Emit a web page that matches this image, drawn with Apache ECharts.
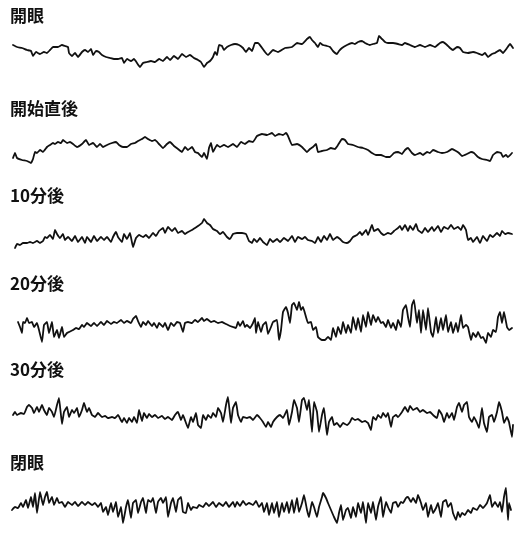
<!DOCTYPE html>
<html><head><meta charset="utf-8">
<script src="https://cdn.jsdelivr.net/npm/echarts@6/dist/echarts.min.js"></script>
<style>html,body{margin:0;padding:0;background:#fff}#c{width:515px;height:533px}</style>
</head><body><div id="c"></div>
<script>
// Panel labels
const labels = ['開眼', '開始直後', '10分後', '20分後', '30分後', '閉眼'];

// Traces: [time, deflection] (deflection plotted downward-positive)
const trace1 = [[13,45],[17,47],[22,48],[27,50],[31,51],[33,56],[36,52],[40,54],[44,52],[47,53],[50,50],[53,47],[58,47],[62,45],[65,46],[68,47],[69,53],[72,56],[75,53],[78,57],[82,52],[85,50],[88,52],[91,49],[93,55],[96,51],[99,52],[102,55],[106,57],[110,58],[114,59],[118,59],[122,58],[124,63],[127,59],[131,61],[134,59],[137,63],[140,67],[143,63],[147,62],[151,61],[155,62],[159,59],[163,61],[167,57],[170,60],[174,56],[178,59],[182,54],[186,57],[190,55],[194,58],[198,60],[201,62],[204,67],[207,63],[210,61],[213,57],[215,52],[217,55],[219,45],[222,46],[224,50],[227,47],[231,45],[235,44],[239,45],[243,48],[246,52],[249,48],[252,51],[255,43],[258,43],[265,52],[268,55],[273,50],[278,52],[285,48],[292,47],[297,43],[302,44],[307,39],[310,37],[312,40],[315,43],[318,47],[320,43],[323,45],[327,46],[330,47],[333,51],[337,54],[339,51],[342,48],[347,45],[352,43],[355,44],[358,42],[362,41],[365,43],[370,45],[373,44],[377,43],[379,36],[382,39],[385,42],[388,43],[393,43],[398,44],[402,45],[405,43],[410,45],[415,47],[420,45],[425,47],[430,45],[435,47],[440,43],[443,42],[447,45],[450,48],[453,50],[457,47],[460,48],[463,52],[468,53],[473,52],[477,53],[482,55],[485,53],[488,57],[492,54],[495,53],[500,50],[503,53],[507,48],[510,44],[513,48]];

const trace2 = [[13,158],[15,153],[17,158],[22,160],[27,161],[31,163],[33,159],[35,152],[37,153],[40,150],[43,152],[47,147],[50,145],[53,143],[55,144],[58,142],[61,143],[63,140],[67,143],[70,142],[73,144],[77,147],[82,144],[86,140],[89,145],[93,143],[97,147],[100,144],[103,147],[107,145],[112,143],[116,142],[119,145],[123,147],[127,147],[131,144],[135,143],[138,141],[142,139],[145,137],[148,139],[152,141],[155,140],[159,144],[163,148],[167,144],[170,142],[174,146],[178,149],[182,152],[185,147],[188,150],[192,147],[195,152],[198,153],[202,157],[204,153],[207,159],[209,148],[211,143],[213,152],[217,145],[220,147],[224,145],[228,147],[233,144],[237,147],[241,142],[245,144],[249,141],[253,142],[257,136],[262,134],[267,135],[272,133],[275,136],[279,134],[283,135],[286,133],[288,136],[292,145],[297,144],[302,147],[307,152],[310,149],[313,147],[316,144],[318,152],[322,151],[327,150],[331,148],[335,149],[338,145],[342,139],[345,140],[348,144],[353,145],[358,147],[363,148],[368,150],[372,153],[376,155],[381,155],[386,157],[390,157],[394,153],[398,152],[402,154],[405,150],[408,148],[412,153],[415,155],[420,153],[423,155],[427,152],[430,153],[433,150],[438,152],[442,153],[447,152],[452,149],[456,151],[459,153],[462,156],[467,154],[471,152],[474,153],[478,157],[482,159],[487,160],[490,161],[493,155],[497,152],[501,153],[503,157],[506,155],[508,157],[512,153]];

const trace3 = [[15,248],[17,244],[20,245],[23,243],[27,243],[30,242],[33,243],[37,241],[40,243],[43,241],[45,237],[47,238],[50,235],[53,239],[55,230],[57,234],[60,238],[63,234],[65,240],[68,237],[72,241],[75,236],[78,242],[82,237],[85,243],[87,237],[91,242],[94,236],[97,241],[101,237],[104,240],[107,237],[111,242],[113,237],[116,232],[118,237],[122,242],[124,234],[127,239],[130,233],[133,247],[136,238],[139,235],[143,237],[146,235],[149,238],[153,233],[156,236],[159,231],[163,228],[165,233],[168,227],[172,231],[175,228],[178,233],[182,231],[185,234],[188,232],[192,230],[195,228],[198,226],[202,223],[204,219],[207,223],[210,225],[213,229],[217,231],[220,234],[223,232],[227,237],[230,239],[233,234],[237,233],[242,233],[246,234],[249,241],[252,243],[254,239],[257,242],[260,238],[263,242],[267,245],[270,239],[273,242],[277,239],[280,242],[284,238],[288,241],[292,236],[295,242],[298,237],[302,239],[305,237],[308,240],[312,241],[315,243],[318,237],[321,242],[324,236],[327,240],[330,234],[333,240],[337,237],[340,239],[343,242],[347,243],[350,241],[353,237],[357,235],[360,232],[362,235],[366,230],[368,235],[372,225],[374,231],[378,229],[381,233],[384,235],[388,233],[391,234],[394,231],[398,228],[400,226],[402,230],[405,225],[408,231],[410,226],[413,230],[416,224],[418,230],[422,233],[425,228],[428,232],[432,227],[434,231],[438,226],[441,232],[444,227],[448,229],[451,225],[454,229],[458,227],[461,230],[463,225],[466,230],[468,240],[471,238],[473,242],[477,237],[480,243],[483,236],[487,241],[490,235],[493,237],[497,233],[500,236],[502,231],[505,234],[508,233],[512,234]];

const trace4 = [[18,322],[20,327],[22,333],[23,322],[25,323],[27,318],[29,323],[32,322],[34,327],[37,323],[39,330],[42,342],[44,325],[47,322],[49,333],[52,322],[54,337],[57,330],[59,338],[62,327],[64,337],[67,333],[69,332],[73,330],[76,328],[79,329],[82,325],[84,327],[87,323],[91,326],[94,323],[97,326],[101,322],[104,325],[107,321],[111,324],[114,322],[117,323],[121,320],[124,323],[127,321],[131,323],[133,319],[136,316],[138,321],[141,327],[143,322],[146,325],[148,321],[152,326],[154,323],[157,328],[159,323],[163,327],[165,323],[168,330],[171,323],[174,326],[177,322],[180,323],[183,332],[185,323],[188,322],[192,323],[195,320],[198,322],[202,318],[204,321],[207,319],[211,322],[214,321],[218,323],[222,322],[226,324],[230,326],[233,327],[236,328],[238,322],[240,326],[243,321],[245,327],[247,325],[250,328],[253,323],[255,318],[256,333],[258,322],[261,332],[263,325],[266,322],[268,334],[271,327],[273,322],[277,320],[279,340],[281,330],[283,312],[286,307],[288,313],[290,323],[292,305],[294,303],[297,310],[299,302],[301,310],[303,307],[306,317],[308,323],[311,322],[313,330],[316,327],[318,337],[322,340],[325,340],[328,337],[331,340],[333,328],[336,337],[338,327],[341,334],[343,322],[346,333],[348,325],[351,333],[353,317],[356,330],[358,318],[361,332],[363,315],[366,327],[368,312],[371,325],[373,315],[376,322],[378,317],[381,323],[383,322],[386,327],[388,320],[391,328],[393,323],[396,330],[398,320],[401,327],[403,310],[406,305],[408,317],[410,327],[412,305],[414,300],[417,323],[419,310],[421,333],[423,310],[426,330],[428,308],[431,332],[433,337],[436,317],[438,333],[441,318],[443,330],[446,315],[448,332],[451,322],[453,333],[456,323],[458,332],[461,315],[463,328],[466,325],[468,327],[471,340],[473,333],[476,337],[478,332],[481,338],[483,337],[486,343],[488,333],[491,337],[493,330],[496,332],[498,317],[500,312],[502,323],[504,312],[507,327],[509,330],[512,328]];

const trace5 = [[13,415],[15,412],[17,415],[21,413],[24,414],[27,407],[29,405],[32,408],[34,413],[37,407],[39,412],[42,405],[44,410],[47,415],[49,408],[52,412],[54,417],[57,405],[59,398],[62,424],[64,412],[67,407],[69,417],[72,410],[74,413],[77,408],[79,417],[82,410],[84,403],[87,412],[89,408],[92,415],[95,417],[98,413],[102,417],[105,416],[108,418],[112,417],[115,418],[118,415],[122,422],[124,418],[127,423],[129,418],[132,422],[134,417],[137,423],[139,410],[142,421],[144,413],[147,418],[149,414],[152,417],[155,415],[158,418],[162,416],[165,419],[168,417],[172,420],[175,415],[178,412],[181,420],[183,415],[186,423],[188,428],[191,417],[193,422],[196,413],[198,425],[201,428],[203,415],[206,420],[208,415],[211,418],[213,413],[216,417],[218,408],[221,413],[223,422],[226,405],[228,397],[231,423],[233,408],[236,402],[238,415],[241,422],[243,417],[247,418],[250,417],[253,420],[257,415],[260,418],[263,422],[266,427],[268,422],[271,427],[273,422],[277,417],[280,415],[283,418],[287,410],[289,425],[292,412],[294,400],[297,408],[299,422],[302,400],[304,398],[307,410],[309,400],[312,432],[314,402],[317,412],[319,432],[322,415],[324,408],[327,435],[329,422],[332,417],[334,425],[337,423],[340,427],[343,423],[347,425],[350,422],[352,418],[355,420],[358,419],[362,422],[365,421],[368,423],[371,430],[373,417],[376,420],[378,415],[381,418],[383,413],[386,417],[388,413],[391,427],[393,417],[396,415],[398,417],[402,412],[405,407],[408,412],[410,406],[413,410],[417,408],[420,412],[423,410],[427,413],[430,412],[433,415],[437,418],[439,410],[442,415],[444,422],[447,413],[449,418],[452,413],[454,420],[457,407],[459,403],[462,412],[464,405],[467,402],[469,417],[472,422],[474,417],[477,423],[479,428],[482,408],[484,423],[487,432],[489,417],[492,415],[494,422],[497,412],[499,402],[502,412],[504,423],[507,417],[509,422],[512,437],[513,425]];

const trace6 = [[12,510],[15,507],[18,508],[21,503],[23,507],[26,500],[28,508],[31,497],[33,507],[35,493],[37,513],[40,492],[43,505],[45,497],[47,492],[49,503],[52,497],[54,505],[57,498],[59,503],[62,502],[65,507],[68,502],[72,505],[75,502],[78,506],[82,502],[85,505],[88,502],[92,505],[95,503],[98,507],[101,503],[103,512],[106,507],[108,515],[111,503],[113,512],[116,502],[118,517],[121,507],[123,523],[126,507],[128,500],[131,518],[133,503],[136,500],[138,513],[141,502],[143,498],[146,513],[148,500],[151,502],[153,498],[156,513],[158,502],[161,498],[163,503],[166,497],[168,517],[171,503],[173,498],[176,512],[178,500],[181,497],[183,512],[186,513],[188,503],[191,510],[193,507],[197,508],[199,505],[203,507],[206,503],[209,506],[213,502],[216,507],[219,503],[223,506],[226,502],[229,507],[233,502],[235,507],[237,502],[240,506],[243,501],[246,505],[249,503],[253,505],[256,501],[259,507],[262,503],[264,512],[267,503],[269,515],[272,503],[274,513],[277,502],[279,517],[282,503],[284,512],[287,502],[289,513],[292,500],[294,513],[297,498],[299,512],[302,503],[304,495],[307,510],[309,517],[312,502],[314,507],[317,517],[319,507],[322,497],[323,493],[326,498],[328,503],[331,510],[334,517],[337,523],[339,513],[341,505],[343,520],[346,510],[348,508],[351,518],[353,507],[356,517],[358,503],[361,513],[363,502],[366,523],[368,503],[371,513],[373,502],[376,520],[378,507],[381,497],[383,517],[386,502],[388,507],[391,513],[393,503],[396,502],[398,507],[401,502],[403,503],[406,498],[408,497],[411,502],[413,498],[416,503],[418,495],[421,503],[423,510],[426,503],[428,517],[431,505],[433,513],[436,508],[438,503],[441,517],[443,502],[446,500],[448,507],[451,503],[453,513],[456,520],[458,512],[460,517],[462,513],[465,515],[468,510],[471,513],[473,508],[477,510],[480,505],[483,508],[487,503],[490,495],[492,507],[495,502],[498,507],[500,502],[502,512],[504,497],[506,488],[508,520],[509,503],[511,510]];

const traces = [trace1, trace2, trace3, trace4, trace5, trace6];
// deflection range of each panel
const ranges = [[34, 70], [128, 166], [215, 250], [296, 346], [392, 440], [484, 528]];
const labelY = [18, 111, 198, 286, 372, 465];

const chart = echarts.init(document.getElementById('c'), null, {renderer: 'canvas'});
const grids = [], xAxes = [], yAxes = [], series = [], graphics = [];
traces.forEach((tr, i) => {
  const [lo, hi] = ranges[i];
  grids.push({left: 0, width: 515, top: lo, height: hi - lo, containLabel: false});
  xAxes.push({type: 'value', gridIndex: i, min: 0, max: 515, show: false});
  yAxes.push({type: 'value', gridIndex: i, min: lo, max: hi, inverse: true, show: false});
  series.push({
    type: 'line', xAxisIndex: i, yAxisIndex: i, data: tr, showSymbol: false,
    lineStyle: {color: '#111', width: 1.8, join: 'round', cap: 'round'}, smooth: 0.1, animation: false, silent: true
  });
  graphics.push({
    type: 'text', left: 10, top: labelY[i] - 11,
    style: {text: labels[i], fill: '#111', font: 'bold 17px "Noto Sans CJK JP", sans-serif'}
  });
});
chart.setOption({
  animation: false,
  grid: grids, xAxis: xAxes, yAxis: yAxes, series: series, graphic: graphics
});
</script></body></html>
